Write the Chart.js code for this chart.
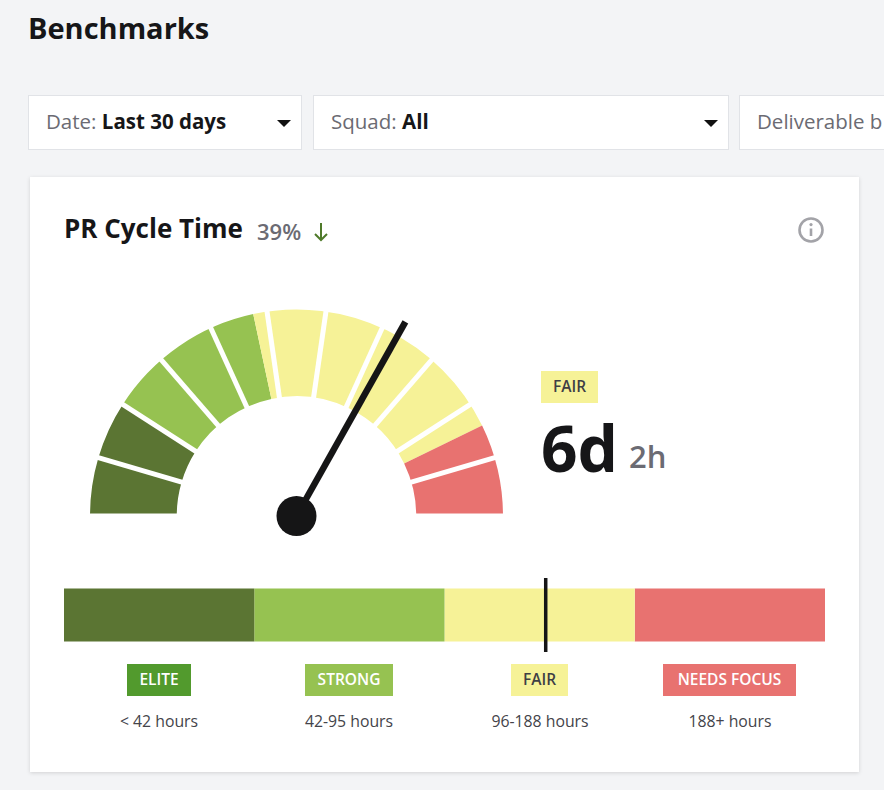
<!DOCTYPE html>
<html>
<head>
<meta charset="utf-8">
<title>Benchmarks</title>
<script src="https://cdn.jsdelivr.net/npm/chart.js@4"></script>
<style>
  html, body { margin: 0; padding: 0; }
  body { width: 884px; height: 790px; background: #f3f4f6; overflow: hidden; position: relative;
         font-family: "Open Sans", sans-serif; color: #161618; }
  .abs { position: absolute; white-space: nowrap; }
  .filter { position: absolute; top: 95px; height: 53px; line-height: 51px; background: #fff; border: 1px solid #e1e3e7;
            font-size: 20.5px; color: #6b6b73; padding-left: 17px; box-sizing: content-box; overflow: hidden; white-space: nowrap; }
  .filter b { color: #161618; font-weight: 700; }
  .caret { position: absolute; width: 0; height: 0; border-left: 7px solid transparent; border-right: 7px solid transparent;
           border-top: 7px solid #111; top: 120px; }
  #card { position: absolute; left: 30px; top: 177px; width: 829px; height: 595px; background: #fff;
          box-shadow: 0 1px 4px rgba(0,0,0,0.14); }
  canvas { position: absolute; }
  .badge { position: absolute; top: 664px; height: 32px; line-height: 30px; text-align: center; font-size: 15.5px;
           font-weight: 600; color: #fff; }
  .range { position: absolute; top: 710px; width: 190px; text-align: center; font-size: 15.8px; color: #44444a; }
</style>
</head>
<body>
<div class="abs" style="left:28px;top:8px;font-size:29px;font-weight:700;">Benchmarks</div>

<div class="filter" style="left:28px;width:255px;">Date: <b>Last 30 days</b></div>
<div class="caret" style="left:277px;"></div>
<div class="filter" style="left:313px;width:397px;">Squad: <b>All</b></div>
<div class="caret" style="left:704px;"></div>
<div class="filter" style="left:739px;width:160px;">Deliverable b</div>

<div id="card"></div>
<div class="abs" style="left:64px;top:210px;font-size:26px;font-weight:700;">PR Cycle Time</div>
<div class="abs" style="left:257px;top:216px;font-size:22px;font-weight:600;color:#6b6b73;">39%</div>
<svg class="abs" style="left:312px;top:221px;" width="18" height="22" viewBox="0 0 18 22">
  <path d="M9 2V19M3 13L9 19L15 13" fill="none" stroke="#4f7a2a" stroke-width="2"/>
</svg>
<svg class="abs" style="left:797px;top:216px;" width="28" height="28" viewBox="0 0 28 28">
  <circle cx="14" cy="14" r="11.5" fill="none" stroke="#a3a3a8" stroke-width="2.6"/>
  <path d="M14 12.5V20" stroke="#a3a3a8" stroke-width="2.6"/>
  <circle cx="14" cy="8.6" r="1.6" fill="#a3a3a8"/>
</svg>

<canvas id="gauge" style="left:90px;top:309px;width:413px;height:236px;" width="413" height="236"></canvas>

<div class="badge" style="left:541px;top:371px;width:57px;background:#f6f297;color:#3f3f45;">FAIR</div>
<div class="abs" style="left:541px;top:408px;font-size:64px;font-weight:700;line-height:80px;">6d</div>
<div class="abs" style="left:629px;top:436px;font-size:31px;font-weight:600;line-height:40px;color:#6b6b73;">2h</div>

<canvas id="bar" style="left:64px;top:578px;width:761px;height:74px;" width="761" height="74"></canvas>

<div class="badge" style="left:127px;width:64px;background:#529a2d;">ELITE</div>
<div class="badge" style="left:305px;width:88px;background:#96c251;">STRONG</div>
<div class="badge" style="left:511px;width:57px;background:#f6f297;color:#3f3f45;">FAIR</div>
<div class="badge" style="left:663px;width:133px;background:#e87270;">NEEDS FOCUS</div>
<div class="range" style="left:64px;">&lt; 42 hours</div>
<div class="range" style="left:254px;">42-95 hours</div>
<div class="range" style="left:445px;">96-188 hours</div>
<div class="range" style="left:635px;">188+ hours</div>

<script>
const bandLabels = ['Elite', 'Strong', 'Fair', 'Needs focus'];
const bandColors = ['#5b7533', '#96c251', '#f6f297', '#e87270'];

// gauge is read in degrees of the half circle, left to right
const gaugeSpans = [32.7, 45.2, 76.1, 26];
const gaugeTicks = [16.4, 32.7, 49.1, 65.5, 81.8, 98.2, 114.5, 130.9, 147.3, 163.6];
const needleValue = 119.3;

// lower bar: four equal bands, marker sits a bit past the middle of Fair
const barSpans = [1, 1, 1, 1];
const barMarker = 2.532;

Chart.defaults.animation = false;

const gaugeOverlay = {
  id: 'gaugeOverlay',
  // the bottom edge of the arcs is cut a little above the hub centre
  beforeDatasetsDraw(chart) {
    const arc = chart.getDatasetMeta(0).data[0];
    const ctx = chart.ctx;
    ctx.save();
    ctx.beginPath();
    ctx.rect(0, 0, chart.width, arc.y - 2.5);
    ctx.clip();
  },
  afterDatasetsDraw(chart) {
    const ctx = chart.ctx;
    ctx.restore();

    const arc = chart.getDatasetMeta(0).data[0];
    const cx = arc.x, cy = arc.y;
    const inner = arc.innerRadius, outer = arc.outerRadius;
    const total = gaugeSpans.reduce((a, b) => a + b, 0);
    const toRad = v => Math.PI + (v / total) * Math.PI;

    ctx.save();
    ctx.strokeStyle = '#fff';
    ctx.lineWidth = 5;
    gaugeTicks.forEach(t => {
      const a = toRad(t);
      ctx.beginPath();
      ctx.moveTo(cx + Math.cos(a) * (inner - 1), cy + Math.sin(a) * (inner - 1));
      ctx.lineTo(cx + Math.cos(a) * (outer + 1), cy + Math.sin(a) * (outer + 1));
      ctx.stroke();
    });

    const a = toRad(needleValue);
    ctx.strokeStyle = '#151516';
    ctx.lineWidth = 6.5;
    ctx.beginPath();
    ctx.moveTo(cx, cy);
    ctx.lineTo(cx + Math.cos(a) * 222.5, cy + Math.sin(a) * 222.5);
    ctx.stroke();
    ctx.fillStyle = '#151516';
    ctx.beginPath();
    ctx.arc(cx, cy, 20, 0, Math.PI * 2);
    ctx.fill();
    ctx.restore();
  }
};

new Chart(document.getElementById('gauge'), {
  type: 'doughnut',
  data: {
    labels: bandLabels,
    datasets: [{ data: gaugeSpans, backgroundColor: bandColors, borderWidth: 0 }]
  },
  options: {
    responsive: false,
    rotation: -90,
    circumference: 180,
    cutout: '58%',
    layout: { padding: { top: 0.5, bottom: 29 } },
    plugins: { legend: { display: false }, tooltip: { enabled: false } }
  },
  plugins: [gaugeOverlay]
});

const barMarkerLine = {
  id: 'barMarkerLine',
  afterDatasetsDraw(chart) {
    const x = chart.scales.x.getPixelForValue(barMarker);
    const ctx = chart.ctx;
    ctx.save();
    ctx.strokeStyle = '#151516';
    ctx.lineWidth = 3.5;
    ctx.beginPath();
    ctx.moveTo(x, chart.chartArea.top);
    ctx.lineTo(x, chart.chartArea.bottom);
    ctx.stroke();
    ctx.restore();
  }
};

new Chart(document.getElementById('bar'), {
  type: 'bar',
  data: {
    labels: ['PR Cycle Time'],
    datasets: barSpans.map((v, i) => ({
      label: bandLabels[i],
      data: [v],
      backgroundColor: bandColors[i],
      borderWidth: 0,
      categoryPercentage: 1,
      barPercentage: 0.716
    }))
  },
  options: {
    indexAxis: 'y',
    responsive: false,
    layout: { padding: 0 },
    scales: {
      x: { stacked: true, display: false, min: 0, max: 4 },
      y: { stacked: true, display: false }
    },
    plugins: { legend: { display: false }, tooltip: { enabled: false } }
  },
  plugins: [barMarkerLine]
});
</script>
</body>
</html>
